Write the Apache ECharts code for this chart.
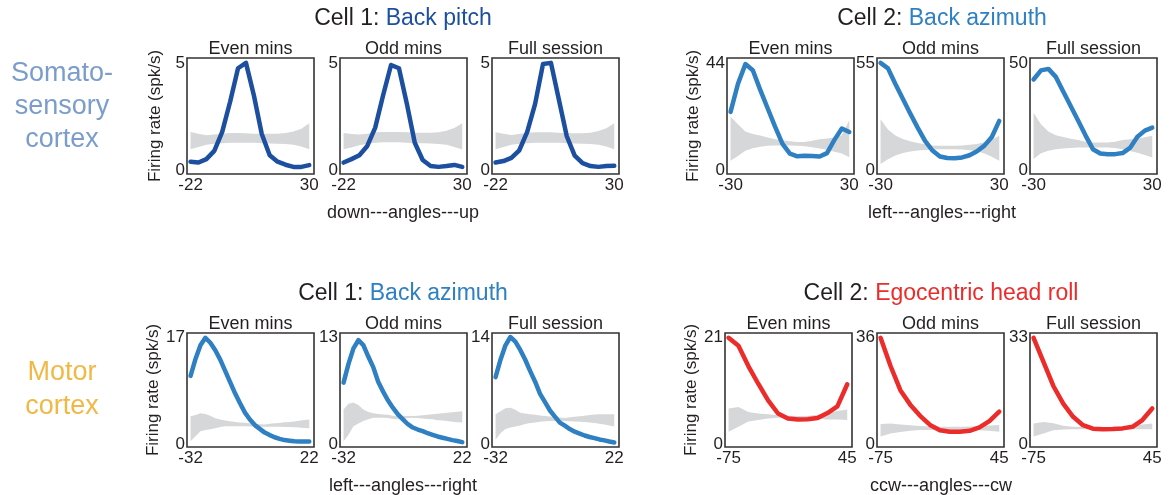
<!DOCTYPE html>
<html><head><meta charset="utf-8">
<script src="https://cdn.jsdelivr.net/npm/echarts@6/dist/echarts.min.js"></script>
<style>html,body{margin:0;padding:0;background:#fff}#c{width:1170px;height:495px}</style>
</head><body><div id="c"></div>
<script>
// ---------- DATA ----------
const subTitles = ['Even mins', 'Odd mins', 'Full session'];

// Somatosensory cortex, Cell 1: Back pitch
const pitchX = [-22, -18.53, -15.07, -11.6, -8.13, -4.67, -1.2, 2.27, 5.73, 9.2, 12.67, 16.13, 19.6, 23.07, 26.53, 30];
const pitchEven = [0.42, 0.38, 0.54, 0.92, 1.8, 3.2, 4.75, 5.0, 3.5, 1.7, 0.72, 0.42, 0.28, 0.18, 0.18, 0.26];
const pitchOdd  = [0.38, 0.54, 0.72, 1.15, 2.0, 3.5, 4.9, 4.75, 3.1, 1.3, 0.5, 0.22, 0.18, 0.22, 0.27, 0.18];
const pitchFull = [0.38, 0.45, 0.6, 0.95, 1.8, 3.1, 4.95, 5.0, 3.3, 1.6, 0.7, 0.35, 0.22, 0.18, 0.22, 0.23];
const pitchEvenHi = [1.8, 1.72, 1.65, 1.68, 1.72, 1.75, 1.75, 1.74, 1.72, 1.72, 1.72, 1.72, 1.75, 1.82, 1.95, 2.2];
const pitchEvenLo = [1.0, 1.1, 1.2, 1.25, 1.28, 1.3, 1.3, 1.3, 1.3, 1.28, 1.26, 1.25, 1.24, 1.2, 1.12, 1.0];
const pitchOddHi  = [1.75, 1.7, 1.68, 1.72, 1.78, 1.8, 1.8, 1.8, 1.78, 1.76, 1.76, 1.76, 1.78, 1.85, 1.98, 2.2];
const pitchOddLo  = [1.0, 1.08, 1.18, 1.25, 1.3, 1.32, 1.32, 1.32, 1.3, 1.28, 1.27, 1.26, 1.24, 1.2, 1.1, 0.98];
const pitchFullHi = [1.78, 1.72, 1.66, 1.7, 1.76, 1.78, 1.78, 1.78, 1.76, 1.74, 1.74, 1.74, 1.76, 1.84, 1.97, 2.2];
const pitchFullLo = [1.0, 1.1, 1.2, 1.25, 1.28, 1.3, 1.3, 1.3, 1.3, 1.28, 1.26, 1.25, 1.24, 1.2, 1.12, 1.0];
const pitchMax = [5, 5, 5];
const pitchTicks = [-22, 30];

// Somatosensory cortex, Cell 2: Back azimuth
const azX = [-30, -26.25, -22.5, -18.75, -15, -11.25, -7.5, -3.75, 0, 3.75, 7.5, 11.25, 15, 18.75, 22.5, 26.25, 30];
const azEven = [24, 35.5, 43.5, 41, 33, 25.5, 18, 11, 7, 5.9, 6.1, 6.0, 5.8, 7.2, 12.6, 17.2, 15.8];
const azOdd  = [55, 52.2, 44.2, 36.7, 29.2, 22, 15.2, 10.3, 7.3, 6.5, 6.4, 6.8, 7.9, 9.9, 12.8, 17.2, 25.4];
const azFull = [42.3, 46.5, 47.2, 43.5, 36.7, 30, 23.3, 16.4, 10, 8, 7.7, 7.7, 8.2, 10.6, 15.8, 18.6, 20];
const azEvenHi = [22, 19, 16, 15, 14.4, 13.6, 12.9, 12.4, 12, 11.7, 11.7, 12.2, 12.8, 13.2, 13.6, 14.5, 20.6];
const azEvenLo = [4.1, 6.0, 8.2, 9.2, 9.8, 10.2, 10.3, 10.3, 10.3, 10.2, 10, 9.6, 9.1, 8.6, 7.8, 7.0, 5.5];
const azOddHi  = [26.2, 21, 18, 16.2, 15, 14.2, 13.5, 12.9, 12.7, 12.7, 12.7, 12.9, 13.2, 13.7, 14.6, 15.8, 17.8];
const azOddLo  = [3.4, 5.9, 7.8, 9.0, 9.8, 10.3, 10.6, 10.9, 11, 11, 11, 10.8, 10.5, 10.0, 8.8, 7.2, 5.1];
const azFullHi = [26.9, 21.5, 18.2, 16.4, 15.6, 14.8, 14.2, 13.4, 13.1, 13.1, 13.1, 13.5, 14.2, 14.6, 15, 15.5, 16.2];
const azFullLo = [5.4, 8.1, 9.3, 10, 10.3, 10.6, 10.8, 10.8, 10.8, 10.8, 10.8, 10.5, 10, 9.2, 8.3, 7.3, 6.2];
const azMax = [44, 55, 50];
const azTicks = [-30, 30];

// Motor cortex, Cell 1: Back azimuth
const mazX = [-32, -29.75, -27.5, -25.25, -23, -20.75, -18.5, -16.25, -14, -11.75, -9.5, -7.25, -5, -2.75, -0.5, 1.75, 4, 6.25, 8.5, 10.75, 13, 15.25, 17.5, 19.75, 22];
const mazEven = [10.9, 13.6, 15.8, 17, 16.2, 15.0, 13.5, 11.7, 9.9, 8.1, 6.5, 5.0, 3.9, 3.0, 2.4, 1.8, 1.4, 1.05, 0.8, 0.6, 0.5, 0.4, 0.38, 0.38, 0.38];
const mazOdd  = [7.5, 9.8, 11.7, 12.7, 12.1, 10.7, 9.4, 7.6, 6.4, 5.3, 4.4, 3.6, 3.0, 2.4, 2.0, 1.75, 1.55, 1.3, 1.1, 0.9, 0.75, 0.6, 0.45, 0.35, 0.2];
const mazFull = [8.8, 11.1, 13, 14.1, 13.5, 12.4, 11.1, 9.6, 8.2, 6.6, 5.5, 4.4, 3.6, 2.8, 2.4, 1.95, 1.6, 1.35, 1.1, 0.9, 0.75, 0.58, 0.45, 0.3, 0.18];
const mazEvenHi = [4.4, 4.6, 4.9, 4.8, 4.5, 4.1, 3.9, 3.75, 3.6, 3.5, 3.42, 3.36, 3.3, 3.2, 3.12, 3.1, 3.2, 3.28, 3.35, 3.45, 3.5, 3.58, 3.68, 3.8, 3.9];
const mazEvenLo = [0.4, 1.2, 2.0, 2.2, 2.35, 2.5, 2.7, 2.8, 2.8, 2.8, 2.8, 2.8, 2.78, 2.78, 2.75, 2.75, 2.75, 2.72, 2.72, 2.7, 2.68, 2.65, 2.6, 2.55, 2.5];
const mazOddHi  = [4.2, 4.9, 5.05, 4.75, 4.2, 3.9, 3.75, 3.65, 3.6, 3.55, 3.45, 3.4, 3.4, 3.4, 3.4, 3.45, 3.5, 3.57, 3.63, 3.7, 3.76, 3.8, 3.87, 3.93, 4.0];
const mazOddLo  = [0.3, 1.1, 2.15, 2.5, 2.8, 3.0, 3.2, 3.2, 3.2, 3.15, 3.05, 3.0, 3.05, 3.15, 3.2, 3.15, 3.1, 3.05, 3.0, 2.9, 2.85, 2.8, 2.72, 2.65, 2.6];
const mazFullHi = [3.9, 4.3, 4.7, 4.75, 4.5, 4.1, 4.0, 3.9, 3.83, 3.75, 3.68, 3.6, 3.53, 3.46, 3.4, 3.5, 3.58, 3.65, 3.72, 3.8, 3.88, 3.9, 3.9, 3.9, 3.9];
const mazFullLo = [0.55, 1.4, 1.95, 2.15, 2.3, 2.42, 2.6, 2.75, 2.82, 2.9, 2.97, 3.0, 3.0, 3.0, 3.0, 2.97, 2.95, 2.92, 2.88, 2.82, 2.75, 2.65, 2.55, 2.42, 2.3];
const mazMax = [17, 13, 14];
const mazTicks = [-32, 22];

// Motor cortex, Cell 2: Egocentric head roll
const rollX = [-75, -65, -55, -45, -35, -25, -15, -5, 5, 15, 25, 35, 45];
const rollEven = [21, 19.4, 15.4, 11.9, 8.6, 6.0, 5.0, 4.8, 4.85, 5.1, 6.1, 7.4, 11.8];
const rollOdd  = [36, 26.5, 18.2, 13.3, 9.5, 6.4, 4.6, 4.1, 4.1, 4.4, 5.6, 7.7, 10.9];
const rollFull = [33, 25.5, 18, 12.5, 8.4, 5.8, 4.7, 4.5, 4.6, 4.8, 5.3, 7.4, 11.0];
const rollEvenHi = [7.0, 7.3, 6.3, 6.0, 5.85, 5.65, 5.55, 5.5, 5.5, 5.75, 6.1, 6.5, 6.8];
const rollEvenLo = [2.4, 3.4, 4.4, 4.7, 5.0, 5.15, 5.15, 5.15, 5.1, 4.95, 4.8, 4.8, 4.7];
const rollOddHi  = [6.7, 6.9, 6.6, 6.3, 6.05, 5.9, 5.8, 5.8, 5.8, 5.9, 6.0, 6.2, 6.4];
const rollOddLo  = [2.5, 3.5, 4.0, 4.4, 4.7, 4.7, 4.7, 4.7, 4.7, 4.7, 4.6, 4.4, 4.1];
const rollFullHi = [6.35, 6.8, 6.4, 5.6, 5.3, 5.25, 5.15, 5.15, 5.25, 5.4, 5.7, 6.0, 6.35];
const rollFullLo = [2.25, 3.2, 4.2, 4.45, 4.5, 4.5, 4.5, 4.5, 4.5, 4.5, 4.5, 4.5, 4.5];
const rollMax = [21, 36, 33];
const rollTicks = [-75, 45];

// ---------- STYLE / LAYOUT ----------
const FONT = '"Liberation Sans", Arial, Helvetica, sans-serif';
const TXT = '#231f20';
const BAND = '#d6d7d9';
const C_PITCH = '#1c4f9f', C_AZ = '#2f80c3', C_ROLL = '#ec2b2b';

const groups = [
  { x: pitchX, ys: [pitchEven, pitchOdd, pitchFull], hi: [pitchEvenHi, pitchOddHi, pitchFullHi], lo: [pitchEvenLo, pitchOddLo, pitchFullLo],
    max: pitchMax, ticks: pitchTicks, color: C_PITCH, lefts: [187, 340, 492], top: 58, h: 116,
    cell: 'Cell 1: ', feat: 'Back pitch', xname: 'down---angles---up' },
  { x: azX, ys: [azEven, azOdd, azFull], hi: [azEvenHi, azOddHi, azFullHi], lo: [azEvenLo, azOddLo, azFullLo],
    max: azMax, ticks: azTicks, color: C_AZ, lefts: [727, 877, 1030], top: 58, h: 116,
    cell: 'Cell 2: ', feat: 'Back azimuth', xname: 'left---angles---right' },
  { x: mazX, ys: [mazEven, mazOdd, mazFull], hi: [mazEvenHi, mazOddHi, mazFullHi], lo: [mazEvenLo, mazOddLo, mazFullLo],
    max: mazMax, ticks: mazTicks, color: C_AZ, lefts: [187, 340, 492], top: 333, h: 114,
    cell: 'Cell 1: ', feat: 'Back azimuth', xname: 'left---angles---right' },
  { x: rollX, ys: [rollEven, rollOdd, rollFull], hi: [rollEvenHi, rollOddHi, rollFullHi], lo: [rollEvenLo, rollOddLo, rollFullLo],
    max: rollMax, ticks: rollTicks, color: C_ROLL, lefts: [725, 877, 1030], top: 333, h: 114,
    cell: 'Cell 2: ', feat: 'Egocentric head roll', xname: 'ccw---angles---cw' }
];
const W = 127;

const grid = [], xAxis = [], yAxis = [], series = [], graphic = [];
let idx = 0;
groups.forEach((g, gi) => {
  const x0 = g.ticks[0], x1 = g.ticks[1], xr = x1 - x0;
  g.lefts.forEach((left, p) => {
    grid.push({ left: left, top: g.top, width: W, height: g.h, show: true,
      borderColor: '#333333', borderWidth: 1.6, backgroundColor: 'transparent' });
    xAxis.push({ gridIndex: idx, type: 'value', min: x0 - 0.03 * xr, max: x1 + 0.04 * xr,
      axisLine: { show: false }, axisTick: { show: false }, splitLine: { show: false },
      axisLabel: { customValues: g.ticks, fontSize: 17, color: TXT, fontFamily: FONT, margin: 3 } });
    const ym = g.max[p];
    yAxis.push({ gridIndex: idx, type: 'value', min: -0.03 * ym, max: ym * 1.045,
      axisLine: { show: false }, axisTick: { show: false }, splitLine: { show: false },
      axisLabel: { customValues: [0, ym], fontSize: 17, color: TXT, fontFamily: FONT, margin: 2 },
      name: p === 0 ? 'Firing rate (spk/s)' : '', nameLocation: 'middle', nameGap: 23,
      nameTextStyle: { fontSize: 17, color: TXT, fontFamily: FONT } });
    const lo = g.lo[p], hi = g.hi[p], y = g.ys[p], xs = g.x;
    series.push({ type: 'custom', xAxisIndex: idx, yAxisIndex: idx, silent: true, z: 1, clip: true,
      data: [[xs[0], lo[0]]],
      renderItem: function (params, api) {
        const pts = [];
        for (let k = 0; k < xs.length; k++) pts.push(api.coord([xs[k], hi[k]]));
        for (let k = xs.length - 1; k >= 0; k--) pts.push(api.coord([xs[k], lo[k]]));
        return { type: 'polygon', shape: { points: pts }, style: { fill: BAND, stroke: null } };
      } });
    series.push({ type: 'line', xAxisIndex: idx, yAxisIndex: idx, symbol: 'none', silent: true,
      lineStyle: { width: 4.5, color: g.color, cap: 'round', join: 'round' },
      data: xs.map((v, k) => [v, y[k]]), z: 3 });
    graphic.push({ type: 'text', style: { text: subTitles[p], x: left + W / 2, y: g.top - 9,
      align: 'center', verticalAlign: 'middle', font: '18px ' + FONT, fill: TXT } });
    idx++;
  });
  const cx = (g.lefts[0] + g.lefts[2] + W) / 2;
  graphic.push({ type: 'text', style: { text: '{a|' + g.cell + '}{b|' + g.feat + '}', x: cx, y: g.top - 39,
    align: 'center', verticalAlign: 'middle',
    rich: { a: { fontSize: 23, fontFamily: FONT, fill: TXT, color: TXT },
            b: { fontSize: 23, fontFamily: FONT, fill: g.color, color: g.color } } } });
  graphic.push({ type: 'text', style: { text: g.xname, x: cx, y: g.top + g.h + 39,
    align: 'center', verticalAlign: 'middle', font: '18px ' + FONT, fill: TXT } });
});

graphic.push({ type: 'text', style: { text: 'Somato-\nsensory\ncortex', x: 62, y: 107, align: 'center', verticalAlign: 'middle',
  font: '27px ' + FONT, fill: '#7b9dcb', lineHeight: 33 } });
graphic.push({ type: 'text', style: { text: 'Motor\ncortex', x: 62, y: 390, align: 'center', verticalAlign: 'middle',
  font: '27px ' + FONT, fill: '#f1b845', lineHeight: 34 } });

const chart = echarts.init(document.getElementById('c'), null, { renderer: 'canvas' });
chart.setOption({ animation: false, backgroundColor: '#fff', grid, xAxis, yAxis, series, graphic });
</script></body></html>
